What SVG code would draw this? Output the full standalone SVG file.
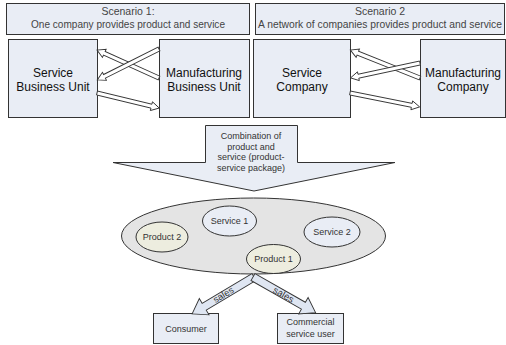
<svg xmlns="http://www.w3.org/2000/svg" width="506" height="345" viewBox="0 0 506 345">
<style>
.box{fill:#e9edf5;stroke:#333;stroke-width:1}
.hdr{fill:#e9edf5;stroke:#333;stroke-width:1}
.t{font-family:"Liberation Sans",Arial,sans-serif;text-anchor:middle;fill:#111}
.h{font-size:10.5px;fill:#444}
.n{font-size:12px}
.s{font-size:9px;fill:#333}
.sl{font-size:9.5px;fill:#333}
.arr{fill:#fff;stroke:#333;stroke-width:0.9}
.sarr{fill:#dfe6f2;stroke:#333;stroke-width:0.9}
</style>
<rect width="506" height="345" fill="#fff"/>
<g id="hdr1"><rect class="hdr" x="6.5" y="3.5" width="243" height="31"/>
<text class="t h" x="128" y="15">Scenario 1:</text>
<text class="t h" x="128" y="28" textLength="194" lengthAdjust="spacingAndGlyphs">One company provides product and service</text></g>
<g id="hdr2"><rect class="hdr" x="255.5" y="3.5" width="249" height="31"/>
<text class="t h" x="380" y="15">Scenario 2</text>
<text class="t h" x="380" y="28" textLength="244" lengthAdjust="spacingAndGlyphs">A network of companies provides product and service</text></g>
<g id="sbu"><rect class="box" x="8.5" y="39.5" width="89" height="78"/>
<text class="t n" x="53" y="77">Service</text><text class="t n" x="53" y="91">Business Unit</text></g>
<g id="mbu"><rect class="box" x="159.5" y="39.5" width="90" height="78"/>
<text class="t n" x="204" y="77">Manufacturing</text><text class="t n" x="204" y="91">Business Unit</text></g>
<g id="sc"><rect class="box" x="253.5" y="39.5" width="97" height="78"/>
<text class="t n" x="302" y="77">Service</text><text class="t n" x="302" y="91">Company</text></g>
<g id="mc"><rect class="box" x="420.5" y="39.5" width="85" height="78"/>
<text class="t n" x="463" y="77">Manufacturing</text><text class="t n" x="463" y="91">Company</text></g>
<g id="combo"><polygon class="box" points="205.5,125.5 297.5,125.5 297.5,162.5 395,162.5 254,191 113,162.5 205.5,162.5"/>
<text class="t s" x="251" y="139">Combination of</text>
<text class="t s" x="251" y="149.5">product and</text>
<text class="t s" x="251" y="160">service (product-</text>
<text class="t s" x="251" y="170.5">service package)</text></g>
<g id="package"><ellipse cx="253.5" cy="236" rx="132" ry="38" fill="#e4e4e4" stroke="#333"/></g>
<g id="p2"><ellipse cx="162" cy="237" rx="26" ry="15" fill="#ededdf" stroke="#333"/><text class="t s" x="162" y="240">Product 2</text></g>
<g id="s1"><ellipse cx="229.5" cy="221" rx="27" ry="15" fill="#e9edf5" stroke="#333"/><text class="t s" x="229.5" y="224">Service 1</text></g>
<g id="s2"><ellipse cx="332" cy="232" rx="28" ry="15" fill="#e9edf5" stroke="#333"/><text class="t s" x="332" y="235">Service 2</text></g>
<g id="p1"><ellipse cx="273.5" cy="259" rx="27" ry="14.5" fill="#ededdf" stroke="#333"/><text class="t s" x="273.5" y="262">Product 1</text></g>
<g id="consumer"><rect class="box" x="153.5" y="313.5" width="65" height="30"/><text class="t s" x="186" y="332">Consumer</text></g>
<g id="csu"><rect class="box" x="277.5" y="313.5" width="66" height="30"/><text class="t s" x="310.5" y="325">Commercial</text><text class="t s" x="310.5" y="337">service user</text></g>
<g id="connectors">
<g transform="translate(159,78) rotate(204.3)"><polygon class="arr" points="0,-2 60,-2 60,-4.5 68,0 60,4.5 60,2 0,2"/></g>
<g transform="translate(159,49) rotate(153.4)"><polygon class="arr" points="0,-2 61,-2 61,-4.5 69,0 61,4.5 61,2 0,2"/></g>
<g transform="translate(97,93) rotate(13.6)"><polygon class="arr" points="0,-2 56,-2 56,-4.5 64,0 56,4.5 56,2 0,2"/></g>
<g transform="translate(420,78) rotate(201.8)"><polygon class="arr" points="0,-2 67,-2 67,-4.5 75,0 67,4.5 67,2 0,2"/></g>
<g transform="translate(420,63) rotate(167.9)"><polygon class="arr" points="0,-2 63,-2 63,-4.5 71,0 63,4.5 63,2 0,2"/></g>
<g transform="translate(350,93) rotate(11.3)"><polygon class="arr" points="0,-2 63,-2 63,-4.5 71,0 63,4.5 63,2 0,2"/></g>
<g transform="translate(254,277) rotate(149.2)"><polygon class="sarr" points="0,-4 58,-4 58,-9.5 72,0 58,9.5 58,4 0,4"/></g>
<g transform="translate(253,277) rotate(29.7)"><polygon class="sarr" points="0,-4 58,-4 58,-9.5 72,0 58,9.5 58,4 0,4"/></g>
<text class="t sl" transform="translate(225,297.5) rotate(-30.8)">sales</text>
<text class="t sl" transform="translate(282,297.5) rotate(29.7)">sales</text>
</g>
</svg>
